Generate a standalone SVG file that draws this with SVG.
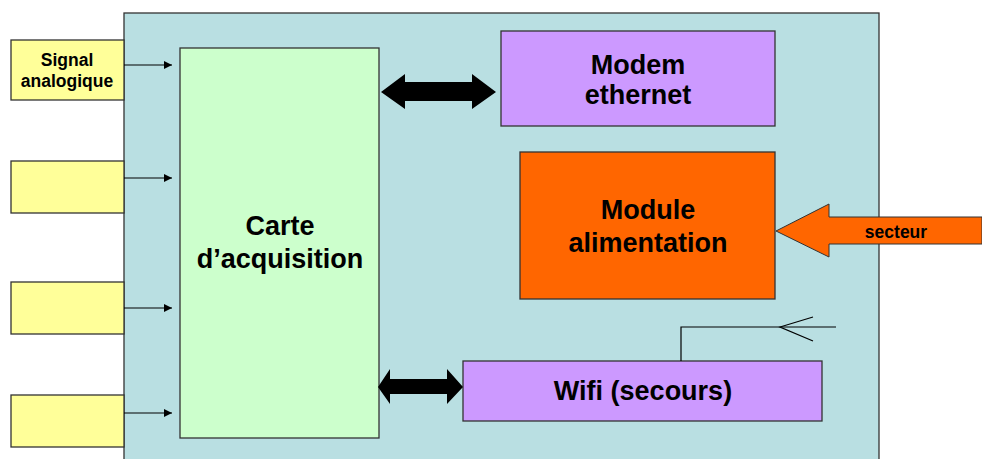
<svg xmlns="http://www.w3.org/2000/svg" width="982" height="459" viewBox="0 0 982 459">
<defs>
<style>
.box{stroke:#333;stroke-width:1.3}
.t{font-family:"Liberation Sans",Arial,sans-serif;font-size:27px;font-weight:bold;fill:#000;text-anchor:middle}
.ts{font-family:"Liberation Sans",Arial,sans-serif;font-size:17.5px;font-weight:bold;fill:#000;text-anchor:middle}
.ln{stroke:#000;stroke-width:1.2;fill:none}
</style>
<marker id="ah" viewBox="0 0 10 10" refX="10" refY="5" markerWidth="8" markerHeight="8" markerUnits="userSpaceOnUse" orient="auto"><path d="M0,0 L10,5 L0,10 Z" fill="#000"/></marker>
</defs>
<rect width="982" height="459" fill="#fff"/>
<g id="main"><rect class="box" x="124" y="13" width="755" height="460" fill="#B9DFE2"/></g>
<g id="in1"><rect class="box" x="11" y="40" width="113" height="60" fill="#FFFF99"/><text class="ts" x="67" y="66">Signal</text><text class="ts" x="67" y="87">analogique</text></g>
<g id="in2"><rect class="box" x="11" y="161" width="113" height="52" fill="#FFFF99"/></g>
<g id="in3"><rect class="box" x="11" y="282" width="113" height="52" fill="#FFFF99"/></g>
<g id="in4"><rect class="box" x="11" y="395" width="113" height="52" fill="#FFFF99"/></g>
<g id="carte"><rect class="box" x="180" y="48" width="199" height="390" fill="#CCFFCC"/><text class="t" x="280" y="235">Carte</text><text class="t" x="280" y="268">d’acquisition</text></g>
<g id="modem"><rect class="box" x="501" y="31" width="274" height="95" fill="#CC99FF"/><text class="t" x="638" y="74">Modem</text><text class="t" x="638" y="104">ethernet</text></g>
<g id="alim"><rect class="box" x="520" y="152" width="255" height="147" fill="#FF6600"/><text class="t" x="648" y="219">Module</text><text class="t" x="648" y="252">alimentation</text></g>
<g id="wifi"><rect class="box" x="463" y="361" width="359" height="60" fill="#CC99FF"/><text class="t" x="643" y="400">Wifi (secours)</text></g>
<g id="connectors">
<line class="ln" x1="124" y1="65" x2="172" y2="65" marker-end="url(#ah)"/>
<line class="ln" x1="124" y1="178" x2="172" y2="178" marker-end="url(#ah)"/>
<line class="ln" x1="124" y1="308" x2="172" y2="308" marker-end="url(#ah)"/>
<line class="ln" x1="124" y1="413" x2="172" y2="413" marker-end="url(#ah)"/>
<path d="M381,92 L405,74 L405,82 L472,82 L472,74 L496,92 L472,109 L472,101 L405,101 L405,109 Z" fill="#000"/>
<path d="M378,387 L390,369 L390,379 L447,379 L447,369 L463,387 L447,404 L447,394 L390,394 L390,404 Z" fill="#000"/>
<path d="M776,231 L829,204 L829,217 L982,217 L982,244 L829,244 L829,257 Z" fill="#FF6600" stroke="#333" stroke-width="1"/>
<text x="896" y="238" font-family="'Liberation Sans',Arial,sans-serif" font-size="17.5" font-weight="bold" text-anchor="middle">secteur</text>
<path class="ln" d="M681,361 L681,327 L836,327"/>
<path class="ln" d="M813,317 L780,327 L813,341"/>
</g>
</svg>
